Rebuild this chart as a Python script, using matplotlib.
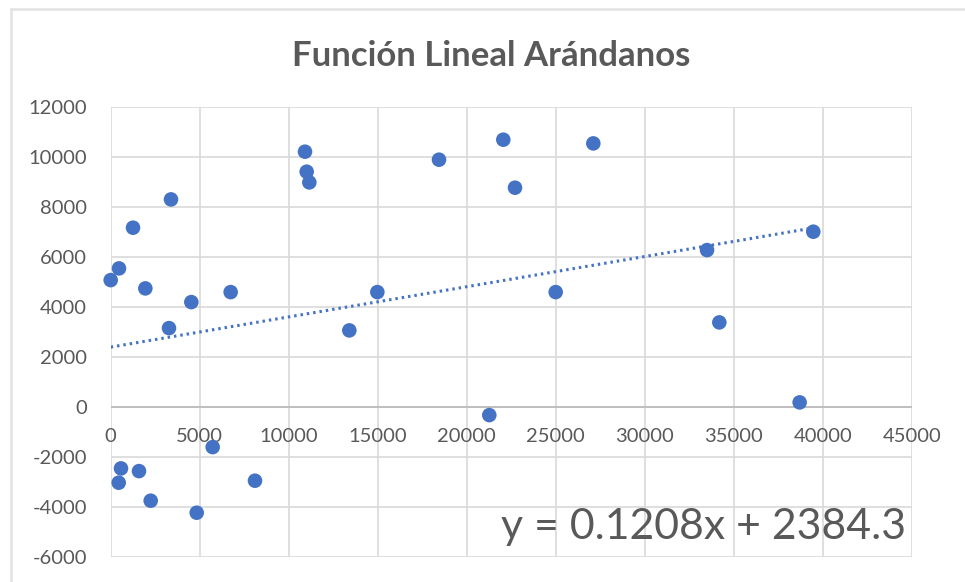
import matplotlib
matplotlib.use("Agg")
import matplotlib.pyplot as plt
from matplotlib.lines import Line2D
import numpy as np

# Data
x_vals = [10911, 11006, 11155, 3386, 1253, 466, 0, 1945, 4528, 6737, 3274,
          13401, 14974, 5727, 578, 1589, 449, 8103, 2246, 4830,
          18437, 22048, 22705, 27102, 24990, 33490, 21261, 39457, 34179, 38690]
y_vals = [10200, 9400, 8972, 8292, 7160, 5532, 5064, 4732, 4184, 4584, 3144,
          3052, 4584, -1616, -2468, -2576, -3040, -2960, -3760, -4240,
          9880, 10680, 8760, 10532, 4584, 6264, -336, 7000, 3372, 172]
slope = 0.1208
intercept = 2384.3
title = "Función Lineal Arándanos"
equation = "y = 0.1208x + 2384.3"
x_ticks = [0, 5000, 10000, 15000, 20000, 25000, 30000, 35000, 40000, 45000]
y_ticks = [-6000, -4000, -2000, 0, 2000, 4000, 6000, 8000, 10000, 12000]

plt.rcParams['font.family'] = ['Lato', 'DejaVu Sans']
plt.rcParams['axes.unicode_minus'] = False
W, H = 965, 582
fig = plt.figure(figsize=(W / 100, H / 100), dpi=100)
ax = fig.add_axes([110.7 / W, 1 - 556.7 / H, (912 - 110.7) / W, (556.7 - 106.7) / H])

blue = '#4472C4'
gray_txt = '#595959'
grid_c = '#D9D9D9'

ax.set_xlim(x_ticks[0], x_ticks[-1])
ax.set_ylim(y_ticks[0], y_ticks[-1])
ax.set_xticks(x_ticks)
ax.set_yticks(y_ticks)
ax.grid(True, color=grid_c, linewidth=1.2)
ax.set_axisbelow(True)
for s in ax.spines.values():
    s.set_visible(False)
ax.axhline(0, color='#BFBFBF', linewidth=1.4, zorder=1)

ax.tick_params(axis='both', length=0, labelsize=14.5, labelcolor=gray_txt)
ax.tick_params(axis='y', pad=17)
ax.set_xticklabels([])
for xv in x_ticks:
    ax.text(xv, -1200, str(xv), ha='center', va='center', fontsize=14.5, color=gray_txt)

# trendline
xs = np.array([min(x_vals), max(x_vals)])
ax.plot(xs, slope * xs + intercept, color=blue, linewidth=2.2,
        linestyle=(0, (0.8, 1.3)), zorder=2)

ax.scatter(x_vals, y_vals, s=110, color=blue, edgecolors='none', zorder=3, clip_on=False)

ax.text(0.993, 0.065, equation, transform=ax.transAxes, ha='right', va='center',
        fontsize=30.8, color=gray_txt)

fig.text(491 / W, 1 - 56 / H, title, ha='center', va='center', fontsize=25,
         fontweight='bold', color=gray_txt)

# chart area border
fig.add_artist(Line2D([10.5 / W, 1], [1 - 9 / H, 1 - 9 / H], transform=fig.transFigure,
                      color='#E3E3E3', linewidth=1.8))
fig.add_artist(Line2D([10.5 / W, 10.5 / W], [1 - 9 / H, 0], transform=fig.transFigure,
                      color='#E3E3E3', linewidth=1.8))

fig.savefig('out.png', dpi=100)
